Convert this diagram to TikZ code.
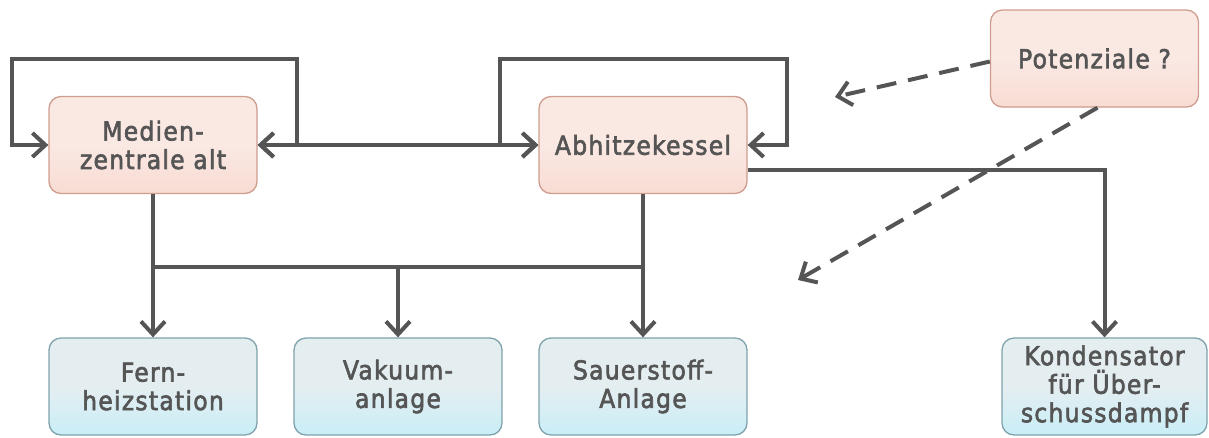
\documentclass[tikz,border=0pt]{standalone}
\usepackage{fontspec}
\setmainfont{DejaVu Sans}[FakeStretch=0.9, FakeBold=2.4, LetterSpace=5]
\usetikzlibrary{arrows.meta}
\definecolor{ink}{HTML}{555555}
\definecolor{pinkfill}{HTML}{FAE8E3}
\definecolor{pinkbot}{HTML}{F8DCD3}
\definecolor{pinkline}{HTML}{CF9C8E}
\definecolor{bluefill}{HTML}{E4EEF1}
\definecolor{bluebot}{HTML}{C9EEF7}
\definecolor{blueline}{HTML}{7FA2AC}
\tikzset{
  box/.style={rounded corners=12pt, minimum width=208pt, minimum height=97pt,
    line width=1.3pt, align=center, text=ink, inner sep=0pt,
    font=\fontsize{26}{28.5}\selectfont},
  pinkbox/.style={box, draw=pinkline, top color=pinkfill, bottom color=pinkbot, middle color=pinkfill},
  bluebox/.style={box, draw=blueline, top color=bluefill, bottom color=bluebot, middle color=bluefill},
  conn/.style={draw=ink, line width=4pt, arrows={-}, line cap=butt},
  tip/.style={-{Straight Barb[length=13pt,width=24pt]}},
  bothtip/.style={{Straight Barb[length=13pt,width=24pt]}-{Straight Barb[length=13pt,width=24pt]}},
  dashconn/.style={conn, dash pattern=on 20pt off 12pt}
}
\begin{document}
\begin{tikzpicture}[x=1pt,y=1pt]
\useasboundingbox (0,0) rectangle (1209,-437);
% nodes
\node[pinkbox] (med) at (153,-145) {Medien-\\zentrale alt};
\node[pinkbox] (ab) at (643,-145) {Abhitzekessel};
\node[pinkbox] (pot) at (1094.5,-58.5) {Potenziale ?};
\node[bluebox] (fern) at (153,-386.5) {Fern-\\heizstation};
\node[bluebox] (vak) at (398,-386.5) {Vakuum-\\anlage};
\node[bluebox] (sau) at (643,-386.5) {Sauerstoff-\\Anlage};
\node[bluebox, minimum width=205pt] (kon) at (1104.5,-386.5) {Kondensator\\für Über-\\schussdampf};
% coordinates
\coordinate (mlt) at (12,-59);
\coordinate (mrt) at (297,-59);
\coordinate (alt) at (500,-59);
\coordinate (art) at (787,-59);
\coordinate (bl) at (153,-267);
\coordinate (bm) at (398,-267);
\coordinate (br) at (643,-267);
\coordinate (d1) at (835,-97);
\coordinate (d2) at (798,-280);
% loops
\draw[conn, bothtip] (med.west) -| (mlt) -- (mrt) |- (med.east);
\draw[conn, bothtip] (ab.west) -| (alt) -- (art) |- (ab.east);
\draw[conn, bothtip] (med.east) -- (ab.west);
% to condenser
\draw[conn, tip] ([yshift=-25pt]ab.east) -| (kon.north);
% bus
\draw[conn] (med.south) -- (bl) -- (br);
\draw[conn] (ab.south) -- (br);
\draw[conn, tip] (bl) -- (fern.north);
\draw[conn, tip] (bm) -- (vak.north);
\draw[conn, tip] (br) -- (sau.north);
% dashed
\draw[dashconn, tip] ([yshift=-3pt]pot.west) -- (d1);
\draw[dashconn, tip] ([xshift=3pt]pot.south) -- (d2);
\end{tikzpicture}
\end{document}
